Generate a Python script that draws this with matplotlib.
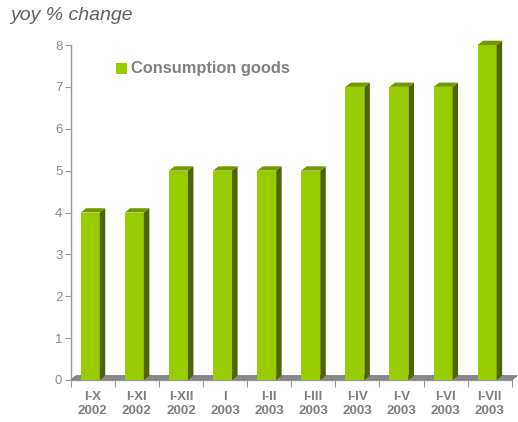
import matplotlib
matplotlib.use("Agg")
import matplotlib.pyplot as plt
from matplotlib.patches import Polygon, Rectangle

categories = ["I-X\n2002", "I-XI\n2002", "I-XII\n2002", "I\n2003", "I-II\n2003",
              "I-III\n2003", "I-IV\n2003", "I-V\n2003", "I-VI\n2003", "I-VII\n2003"]
values = [4, 4, 5, 5, 5, 5, 7, 7, 7, 8]
series_name = "Consumption goods"
y_ticks = [0, 1, 2, 3, 4, 5, 6, 7, 8]

W, H = 518, 422
fig = plt.figure(figsize=(W / 100, H / 100), dpi=100)
x0, x1 = 70.7, 511.7
y0, y1 = 380.0, 45.0
ax = fig.add_axes([x0 / W, (H - y0) / H, (x1 - x0) / W, (y0 - y1) / H])
n = len(categories)
ax.set_xlim(-0.5, n - 0.5)
ax.set_ylim(0, 8)

px_x = n / (x1 - x0)          # data units per pixel (x)
px_y = 8 / (y0 - y1)          # data units per pixel (y)
dx, dy = 5.5 * px_x, 4.3 * px_y
bw = 19 * px_x
off = -2.5 * px_x

front = "#99CC00"
side = "#4D6600"
top = "#739900"
gray = "#808080"

# floor
floor = Polygon([(-0.5, 0), (n - 0.5, 0), (n - 0.5 + dx, dy), (-0.5 + dx, dy)],
                closed=True, facecolor="#8a8a8a", edgecolor="#6e6e6e", lw=0.6,
                zorder=1, clip_on=False)
ax.add_patch(floor)

xs = list(range(n))
bars = ax.bar([x + off for x in xs], values, width=bw, color=front,
              edgecolor="none", zorder=3, clip_on=False)
for b, v in zip(bars, values):
    l = b.get_x()
    r = l + b.get_width()
    ax.add_patch(Polygon([(r, 0), (r + dx, dy), (r + dx, v + dy), (r, v)],
                         closed=True, facecolor=side, edgecolor="none",
                         zorder=3, clip_on=False))
    ax.add_patch(Polygon([(l, v), (r, v), (r + dx, v + dy), (l + dx, v + dy)],
                         closed=True, facecolor=top, edgecolor="none",
                         zorder=3, clip_on=False))

for s in ["top", "right"]:
    ax.spines[s].set_visible(False)
ax.spines["left"].set_color("#999999")
ax.spines["bottom"].set_color("#999999")
ax.spines["left"].set_linewidth(1)
ax.spines["bottom"].set_linewidth(1)

ax.set_yticks(y_ticks)
ax.set_yticklabels([str(t) for t in y_ticks])
ax.tick_params(axis="y", colors="#999999", labelcolor="#8c8c8c", length=4,
               labelsize=9.5, pad=2)
ax.set_xticks([i - 0.5 for i in range(n + 1)], minor=False)
ax.set_xticklabels([])
ax.tick_params(axis="x", colors="#999999", length=5, direction="out")
ax.set_xticks(xs, minor=True)
ax.set_xticklabels(categories, minor=True)
ax.tick_params(axis="x", which="minor", length=0, labelcolor=gray,
               labelsize=9.6, pad=8)
for t in ax.get_xticklabels(minor=True):
    t.set_fontweight("bold")
    t.set_family("Liberation Sans")
    t.set_linespacing(1.2)
for t in ax.get_yticklabels():
    t.set_family("Liberation Sans")

fig.text(10 / W, 1 - 15 / H, "yoy % change", fontsize=14, style="italic",
         color="#606060", family="Liberation Sans", va="center", ha="left")
fig.patches.append(Rectangle((116 / W, 1 - 74 / H), 11 / W, 11 / H,
                             transform=fig.transFigure, facecolor=front,
                             edgecolor="none"))
fig.text(131 / W, 1 - 69 / H, series_name, fontsize=11.8, weight="bold",
         color=gray, family="Liberation Sans", va="center", ha="left")

fig.savefig("out.png", dpi=100)
